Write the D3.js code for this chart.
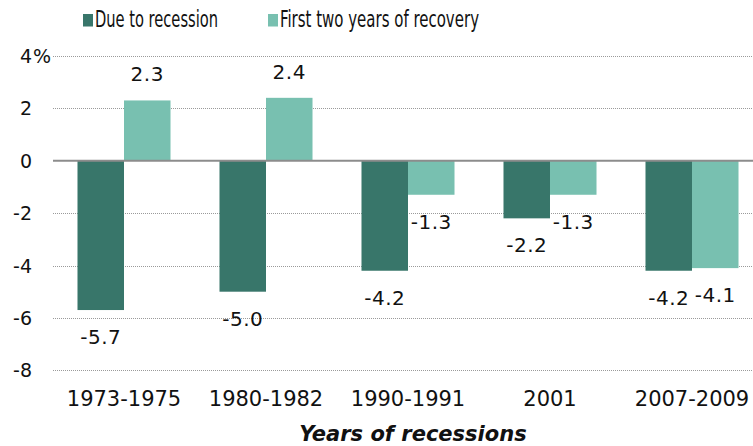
<!DOCTYPE html>
<html>
<head>
<meta charset="utf-8">
<script src="https://cdn.jsdelivr.net/npm/d3@7"></script>
<style>
  body { margin: 0; background: #fff; }
  svg { display: block; }
</style>
</head>
<body>
<div id="chart"></div>
<script>
const periods = ["1973-1975", "1980-1982", "1990-1991", "2001", "2007-2009"];
const dueToRecession = [-5.7, -5.0, -4.2, -2.2, -4.2];
const firstTwoYears = [2.3, 2.4, -1.3, -1.3, -4.1];
const seriesNames = ["Due to recession", "First two years of recovery"];
const yTicks = [4, 2, 0, -2, -4, -6, -8];

const w = 753, h = 446;
const left = 53, right = 763;
const colors = ["#38766a", "#78c0b0"];

const svg = d3.select("#chart").append("svg")
  .attr("width", w)
  .attr("height", h);

const x = d3.scaleBand()
  .domain(periods)
  .range([left, right])
  .paddingInner(0.345)
  .paddingOuter(0.1725);

const x1 = d3.scaleBand()
  .domain([0, 1])
  .range([0, x.bandwidth()]);

const y = d3.scaleLinear()
  .domain([-8, 4])
  .range([370.3, 55.9]);

// grid
svg.append("g")
  .selectAll("line")
  .data(yTicks.filter(d => d != 0))
  .enter()
  .append("line")
  .attr("x1", left)
  .attr("x2", w)
  .attr("y1", d => Math.round(y(d)) + 0.5)
  .attr("y2", d => Math.round(y(d)) + 0.5)
  .attr("stroke", "#9a9a9a")
  .attr("stroke-width", 1)
  .attr("stroke-dasharray", "1,1");

// y labels
const yLab = svg.append("g")
  .style("font-family", "DejaVu Sans, Verdana, sans-serif")
  .style("font-size", "19px")
  .attr("fill", "#111");

yLab.selectAll("text")
  .data(yTicks)
  .enter()
  .append("text")
  .attr("x", 32)
  .attr("y", d => y(d) + 7)
  .attr("text-anchor", "end")
  .text(d => d);

yLab.append("text")
  .attr("x", 33)
  .attr("y", y(4) + 7)
  .text("%");

// bars
const rows = periods.map((p, i) => ({ p: p, vals: [dueToRecession[i], firstTwoYears[i]] }));

const groups = svg.selectAll(".grp")
  .data(rows)
  .enter()
  .append("g")
  .attr("class", "grp")
  .attr("transform", d => "translate(" + x(d.p) + ",0)");

groups.selectAll("rect")
  .data(d => d.vals)
  .enter()
  .append("rect")
  .attr("x", (d, i) => x1(i))
  .attr("width", x1.bandwidth())
  .attr("y", d => y(Math.max(0, d)))
  .attr("height", d => Math.abs(y(d) - y(0)))
  .attr("fill", (d, i) => colors[i]);

groups.selectAll("text")
  .data(d => d.vals)
  .enter()
  .append("text")
  .attr("x", (d, i) => x1(i) + x1.bandwidth() / 2)
  .attr("y", d => d >= 0 ? y(d) - 19 : y(d) + 34)
  .attr("text-anchor", "middle")
  .style("font-family", "DejaVu Sans, Verdana, sans-serif")
  .style("font-size", "20px")
  .style("letter-spacing", "0.5px")
  .attr("fill", "#111")
  .text(d => d.toFixed(1));

// zero line
svg.append("line")
  .attr("x1", left)
  .attr("x2", w)
  .attr("y1", y(0))
  .attr("y2", y(0))
  .attr("stroke", "#8c8c8c")
  .attr("stroke-width", 2);

// x labels
svg.append("g")
  .selectAll("text")
  .data(periods)
  .enter()
  .append("text")
  .attr("x", d => x(d) + x.bandwidth() / 2)
  .attr("y", 406)
  .attr("text-anchor", "middle")
  .style("font-family", "DejaVu Sans, Verdana, sans-serif")
  .style("font-size", "21px")
  .attr("fill", "#111")
  .text(d => d);

svg.append("text")
  .attr("x", 413)
  .attr("y", 441)
  .attr("text-anchor", "middle")
  .style("font-family", "DejaVu Sans, Verdana, sans-serif")
  .style("font-size", "21px")
  .style("font-weight", "bold")
  .style("font-style", "italic")
  .attr("fill", "#111")
  .text("Years of recessions");

// legend
const legX = [83, 268];
const legW = [123, 199];
const leg = svg.append("g");
seriesNames.forEach((s, i) => {
  leg.append("rect")
    .attr("x", legX[i])
    .attr("y", 14)
    .attr("width", 10)
    .attr("height", 12.5)
    .attr("fill", colors[i]);
  leg.append("text")
    .attr("x", legX[i] + 12)
    .attr("y", 27)
    .attr("textLength", legW[i])
    .attr("lengthAdjust", "spacingAndGlyphs")
    .style("font-family", "Liberation Sans Narrow, DejaVu Sans Condensed, sans-serif")
    .style("font-size", "22.5px")
    .attr("fill", "#111")
    .text(s);
});
</script>
</body>
</html>
